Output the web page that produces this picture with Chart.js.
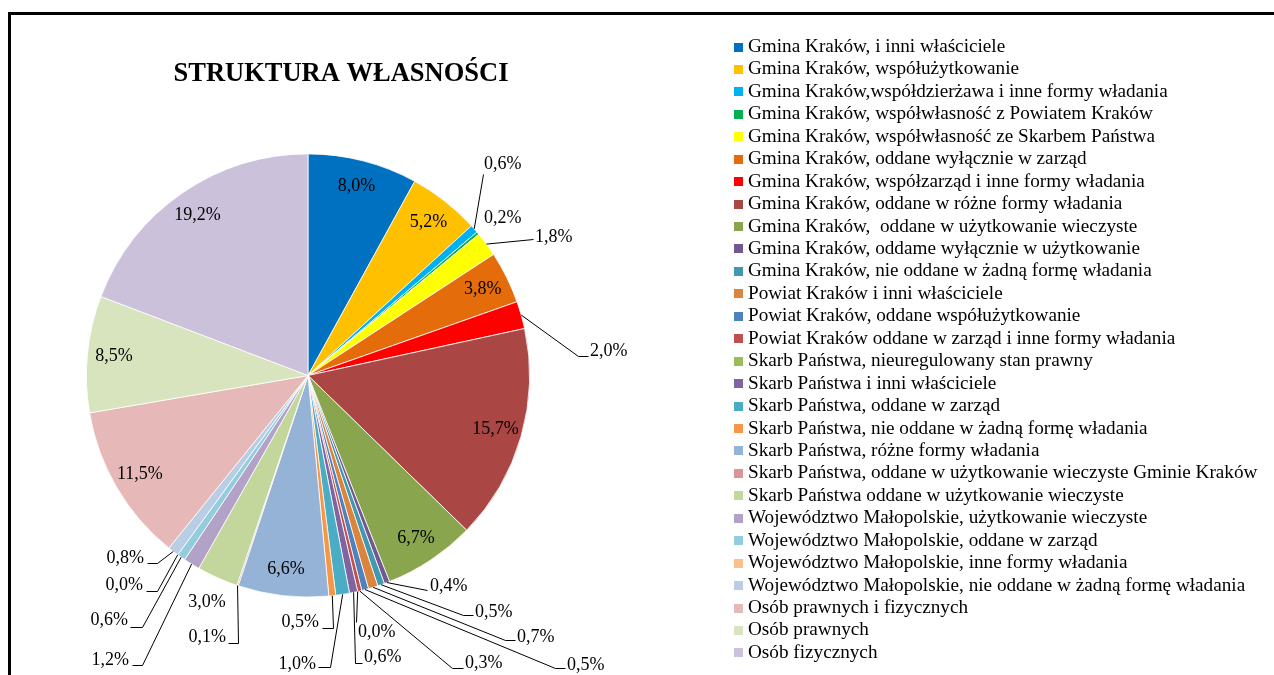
<!DOCTYPE html>
<html lang="pl">
<head>
<meta charset="utf-8">
<title>Struktura własności</title>
<script src="https://cdn.jsdelivr.net/npm/chart.js@4.4.1/dist/chart.umd.min.js"></script>
<style>
  html, body { margin: 0; padding: 0; background: #fff; }
  #wrap { position: relative; width: 1274px; height: 675px; }
</style>
</head>
<body>
<div id="wrap"><canvas id="pieChart" width="1274" height="675"></canvas></div>
<script>
const chartTitle = 'STRUKTURA WŁASNOŚCI';

const categories = [
    'Gmina Kraków, i inni właściciele',
    'Gmina Kraków, współużytkowanie',
    'Gmina Kraków,współdzierżawa i inne formy władania',
    'Gmina Kraków, współwłasność z Powiatem Kraków',
    'Gmina Kraków, współwłasność ze Skarbem Państwa',
    'Gmina Kraków, oddane wyłącznie w zarząd',
    'Gmina Kraków, współzarząd i inne formy władania',
    'Gmina Kraków, oddane w różne formy władania',
    'Gmina Kraków,  oddane w użytkowanie wieczyste',
    'Gmina Kraków, oddame wyłącznie w użytkowanie',
    'Gmina Kraków, nie oddane w żadną formę władania',
    'Powiat Kraków i inni właściciele',
    'Powiat Kraków, oddane współużytkowanie',
    'Powiat Kraków oddane w zarząd i inne formy władania',
    'Skarb Państwa, nieuregulowany stan prawny',
    'Skarb Państwa i inni właściciele',
    'Skarb Państwa, oddane w zarząd',
    'Skarb Państwa, nie oddane w żadną formę władania',
    'Skarb Państwa, różne formy władania',
    'Skarb Państwa, oddane w użytkowanie wieczyste Gminie Kraków',
    'Skarb Państwa oddane w użytkowanie wieczyste',
    'Województwo Małopolskie, użytkowanie wieczyste',
    'Województwo Małopolskie, oddane w zarząd',
    'Województwo Małopolskie, inne formy władania',
    'Województwo Małopolskie, nie oddane w żadną formę władania',
    'Osób prawnych i fizycznych',
    'Osób prawnych',
    'Osób fizycznych'
];

// udział w %
const shares = [
    8.0, 5.2, 0.6, 0.2, 1.8, 3.8, 2.0, 15.7, 6.7, 0.4,
    0.5, 0.7, 0.5, 0.3, 0.0, 0.6, 1.0, 0.5, 6.6, 0.1,
    3.0, 1.2, 0.6, 0.0, 0.8, 11.5, 8.5, 19.2
];

const sliceColors = [
    '#0070C0', '#FFC000', '#00B0F0', '#00B050', '#FFFF00', '#E46C0A', '#FF0000',
    '#AA4643', '#89A54E', '#71588F', '#4198AF', '#DB843D',
    '#4F81BD', '#C0504D', '#9BBB59', '#8064A2', '#4BACC6', '#F79646',
    '#95B3D7', '#D99694', '#C3D69B', '#B3A2C7', '#93CDDD', '#FAC090', '#B9CDE5',
    '#E6B9B8', '#D7E4BD', '#CCC1DA'
];

// which labels sit inside their slice
const insideLabels = [0, 1, 5, 7, 8, 18, 25, 26, 27];

// outside labels: text anchor + leader line bends (start is taken from the slice)
const outsideLabels = {
    2:  { x: 484, y: 164, align: 'left',  path: [[483, 174]] },
    3:  { x: 484, y: 218, align: 'left' },
    4:  { x: 535, y: 237, align: 'left',  path: [[533, 239]] },
    6:  { x: 590, y: 351, align: 'left',  path: [[578, 356], [588, 356]] },
    9:  { x: 430, y: 586, align: 'left',  path: [[427, 590]] },
    10: { x: 475, y: 612, align: 'left',  path: [[463, 615], [473, 615]] },
    11: { x: 517, y: 637, align: 'left',  path: [[505, 640], [515, 640]] },
    12: { x: 567, y: 665, align: 'left',  path: [[555, 668], [565, 668]] },
    13: { x: 465, y: 663, align: 'left',  path: [[452, 668], [463, 668]] },
    14: { x: 358, y: 632, align: 'left',  path: [[356, 622]] },
    15: { x: 364, y: 657, align: 'left',  path: [[355, 663], [362, 663]] },
    16: { x: 316, y: 664, align: 'right', path: [[330, 667], [318, 667]] },
    17: { x: 319, y: 622, align: 'right', path: [[333, 628], [322, 628]] },
    19: { x: 226, y: 637, align: 'right', path: [[238, 643], [228, 643]] },
    20: { x: 207, y: 602, align: 'center' },
    21: { x: 129, y: 660, align: 'right', path: [[142, 665], [132, 665]] },
    22: { x: 128, y: 620, align: 'right', path: [[142, 627], [130, 627]] },
    23: { x: 143, y: 585, align: 'right', path: [[157, 591], [146, 591]] },
    24: { x: 144, y: 558, align: 'right', path: [[157, 563], [147, 563]] }
};

const serif = '"Liberation Serif", "Times New Roman", serif';

function pct(v) {
    return v.toFixed(1).replace('.', ',') + '%';
}

const frameAndTitle = {
    id: 'frameAndTitle',
    beforeDraw(chart) {
        const ctx = chart.ctx;
        ctx.save();
        ctx.fillStyle = '#fff';
        ctx.fillRect(0, 0, chart.width, chart.height);
        ctx.strokeStyle = '#000';
        ctx.lineWidth = 3;
        ctx.beginPath();
        ctx.moveTo(9.5, chart.height);
        ctx.lineTo(9.5, 13.5);
        ctx.lineTo(chart.width, 13.5);
        ctx.stroke();
        ctx.fillStyle = '#000';
        ctx.font = 'bold 26.5px ' + serif;
        ctx.textAlign = 'center';
        ctx.textBaseline = 'middle';
        ctx.fillText(chartTitle, 341, 74);
        ctx.restore();
    }
};

const pieLabels = {
    id: 'pieLabels',
    afterDatasetsDraw(chart) {
        const ctx = chart.ctx;
        const arcs = chart.getDatasetMeta(0).data;
        ctx.save();
        ctx.font = '18px ' + serif;
        ctx.fillStyle = '#000';
        ctx.strokeStyle = '#000';
        ctx.lineWidth = 1;
        ctx.textBaseline = 'middle';
        arcs.forEach((arc, i) => {
            const txt = pct(shares[i]);
            const mid = (arc.startAngle + arc.endAngle) / 2;
            if (insideLabels.includes(i)) {
                const r = arc.outerRadius * 0.88;
                ctx.textAlign = 'center';
                ctx.fillText(txt, arc.x + Math.cos(mid) * r, arc.y + Math.sin(mid) * r);
                return;
            }
            const lay = outsideLabels[i];
            if (!lay) return;
            if (lay.path) {
                ctx.beginPath();
                ctx.moveTo(arc.x + Math.cos(mid) * arc.outerRadius, arc.y + Math.sin(mid) * arc.outerRadius);
                lay.path.forEach(p => ctx.lineTo(p[0] + 0.5, p[1] + 0.5));
                ctx.stroke();
            }
            ctx.textAlign = lay.align;
            ctx.fillText(txt, lay.x, lay.y);
        });
        ctx.restore();
    }
};

const sideLegend = {
    id: 'sideLegend',
    afterDraw(chart, args, opts) {
        const ctx = chart.ctx;
        const colors = chart.data.datasets[0].backgroundColor;
        ctx.save();
        ctx.font = opts.font;
        ctx.textBaseline = 'middle';
        ctx.textAlign = 'left';
        chart.data.labels.forEach((lab, i) => {
            const y = opts.top + i * opts.rowHeight;
            ctx.fillStyle = colors[i];
            ctx.fillRect(opts.left, Math.round(y - opts.box / 2), opts.box, opts.box);
            ctx.fillStyle = '#000';
            ctx.fillText(lab, opts.left + opts.box + opts.gap, y);
        });
        ctx.restore();
    }
};

const ctx1 = document.getElementById('pieChart').getContext('2d');
const pieChart = new Chart(ctx1, {
    type: 'pie',
    data: {
        labels: categories,
        datasets: [
            {
                data: shares,
                backgroundColor: sliceColors,
                borderColor: '#ffffff',
                borderWidth: 0.8
            }
        ]
    },
    options: {
        responsive: false,
        animation: false,
        layout: {
            padding: { left: 86, top: 153, right: 744, bottom: 77 }
        },
        plugins: {
            legend: { display: false },
            tooltip: { enabled: false },
            sideLegend: {
                left: 734,
                top: 47,
                rowHeight: 22.44,
                box: 9,
                gap: 5,
                font: '19.2px ' + serif
            }
        }
    },
    plugins: [frameAndTitle, pieLabels, sideLegend]
});
</script>
</body>
</html>
